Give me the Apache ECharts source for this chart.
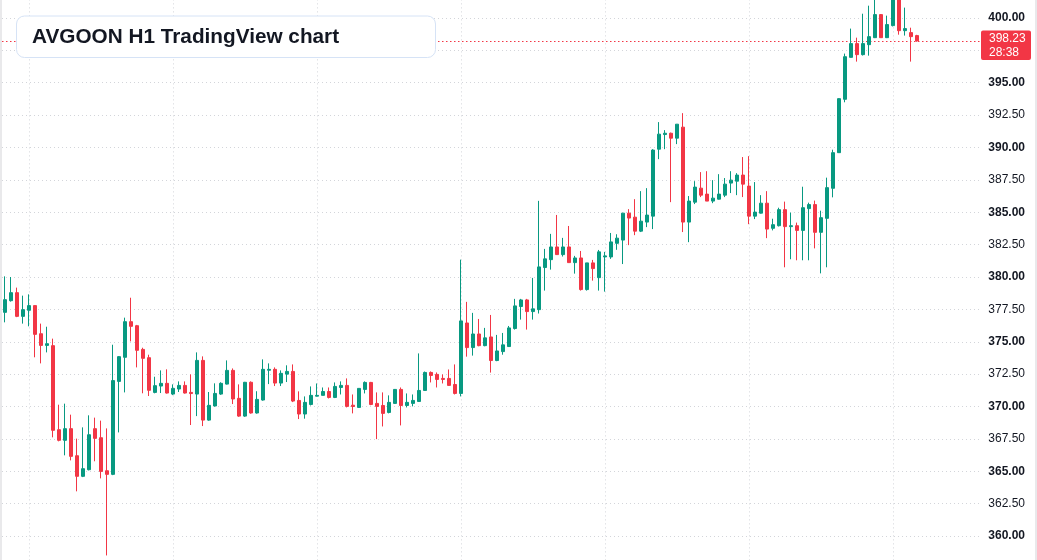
<!DOCTYPE html>
<html>
<head>
<meta charset="utf-8">
<script src="https://cdn.jsdelivr.net/npm/echarts@6/dist/echarts.min.js"></script>
<style>
  html, body { margin: 0; padding: 0; background: #fff; }
  #chart { width: 1037px; height: 560px; }
</style>
</head>
<body>
<div id="chart"></div>
<script>
// H1 candles, oldest first
const opens = [
  377.27, 378.17, 378.79, 376.96, 377.43, 377.79, 375.62, 374.72, 374.70, 368.21,
  367.39, 368.29, 366.20, 364.61, 365.12, 368.29, 367.59, 365.04, 364.76, 371.94,
  373.80, 376.55, 376.24, 374.41, 373.77, 371.09, 371.58, 371.79, 370.96, 371.35,
  371.63, 371.09, 370.96, 373.56, 368.95, 370.04, 370.96, 371.73, 372.79, 370.63,
  369.26, 371.87, 369.50, 370.50, 372.80, 372.87, 371.81, 372.50, 372.71, 370.47,
  369.42, 370.16, 370.80, 370.86, 371.16, 370.70, 371.47, 371.63, 370.10, 369.93,
  371.32, 371.86, 370.24, 370.08, 369.54, 370.24, 371.32, 370.08, 370.24, 370.39,
  371.24, 372.63, 372.48, 372.17, 372.17, 371.70, 371.01, 376.45, 374.55, 375.60,
  374.70, 375.37, 373.55, 374.24, 374.63, 376.02, 377.72, 378.23, 377.33, 377.48,
  380.73, 381.34, 382.32, 381.73, 382.32, 381.11, 381.47, 379.03, 381.09, 379.95,
  381.55, 381.55, 382.60, 382.85, 384.93, 384.62, 383.54, 384.24, 384.70, 389.87,
  391.00, 391.10, 390.72, 391.57, 384.24, 385.78, 386.86, 386.40, 385.86, 386.01,
  386.32, 387.25, 387.40, 387.87, 387.02, 384.70, 384.93, 385.70, 383.76, 383.96,
  385.20, 383.89, 383.96, 383.60, 385.28, 385.59, 383.45, 384.53, 386.85, 389.60,
  393.72, 396.96, 398.02, 397.17, 397.94, 398.48, 400.26, 398.48, 399.41, 401.50,
  399.02, 398.87, 398.64
];
const closes = [
  378.25, 378.79, 376.96, 377.48, 377.79, 375.57, 374.72, 374.85, 368.16, 367.39,
  368.29, 366.15, 364.61, 365.20, 367.82, 367.54, 364.99, 364.76, 372.00, 373.85,
  376.55, 376.19, 374.34, 373.72, 371.25, 371.61, 371.79, 371.04, 371.40, 371.63,
  371.04, 371.00, 373.56, 368.95, 370.09, 371.01, 371.79, 372.79, 370.58, 369.26,
  371.87, 369.50, 370.55, 372.87, 372.87, 371.81, 372.56, 372.71, 370.42, 369.42,
  370.32, 370.86, 370.86, 371.16, 370.70, 371.55, 371.63, 370.01, 370.00, 371.40,
  371.86, 370.16, 370.01, 369.47, 370.32, 371.32, 370.08, 370.32, 370.47, 371.24,
  372.63, 372.40, 372.09, 372.09, 371.63, 371.01, 376.61, 374.55, 375.60, 374.70,
  375.30, 373.55, 374.29, 374.76, 376.07, 377.77, 378.23, 377.33, 377.54, 380.78,
  381.40, 382.32, 381.73, 382.32, 381.11, 381.47, 379.03, 381.09, 380.65, 381.94,
  381.63, 382.71, 383.00, 384.93, 384.55, 383.54, 384.31, 384.78, 389.80, 391.03,
  391.10, 390.72, 391.80, 384.24, 385.86, 386.94, 386.32, 385.86, 386.09, 386.40,
  387.17, 387.48, 387.87, 387.17, 384.70, 385.01, 385.70, 383.70, 384.04, 385.20,
  383.89, 383.96, 383.60, 385.35, 385.59, 383.45, 384.58, 386.90, 389.60, 393.77,
  397.01, 398.02, 397.17, 398.02, 398.56, 400.26, 398.48, 399.49, 401.50, 399.02,
  399.18, 398.56, 398.23
];
const lows = [
  376.50, 378.10, 376.90, 376.40, 376.19, 373.80, 373.33, 374.18, 367.62, 367.31,
  366.23, 365.84, 363.45, 364.55, 365.07, 365.77, 364.45, 358.50, 364.70, 368.00,
  371.09, 375.03, 373.02, 371.02, 370.81, 371.02, 371.04, 371.00, 370.88, 371.12,
  371.00, 368.57, 369.26, 368.49, 368.90, 370.00, 370.90, 371.70, 370.19, 369.20,
  369.20, 369.45, 369.45, 370.45, 371.73, 371.58, 371.58, 371.89, 370.34, 369.03,
  369.06, 370.08, 370.78, 370.86, 370.62, 370.65, 370.93, 369.93, 369.47, 369.90,
  371.01, 370.10, 367.48, 368.46, 369.47, 370.20, 368.54, 369.93, 370.01, 370.37,
  371.20, 371.86, 371.47, 371.78, 371.60, 370.93, 370.78, 373.85, 373.93, 374.65,
  374.65, 372.62, 373.50, 374.00, 374.60, 375.94, 376.71, 375.94, 376.71, 377.18,
  378.95, 380.57, 381.70, 381.58, 381.10, 380.26, 378.95, 378.95, 379.72, 378.95,
  378.87, 381.40, 382.10, 381.00, 382.46, 383.23, 383.47, 383.85, 383.70, 389.10,
  389.87, 385.78, 390.26, 383.47, 382.69, 385.63, 386.17, 385.86, 385.70, 385.98,
  386.17, 386.48, 386.32, 386.17, 384.08, 384.47, 384.90, 383.00, 383.60, 383.90,
  380.75, 381.37, 381.29, 381.29, 381.29, 382.21, 380.28, 380.75, 386.15, 389.60,
  393.49, 396.95, 396.63, 397.10, 397.09, 398.45, 398.48, 398.45, 399.35, 398.71,
  398.64, 396.63, 398.17
];
const highs = [
  380.05, 380.00, 379.18, 378.56, 378.66, 377.80, 376.40, 376.16, 375.24, 370.14,
  370.22, 369.37, 367.52, 368.39, 369.32, 369.14, 368.91, 368.31, 374.77, 373.90,
  376.86, 378.40, 376.30, 374.54, 374.00, 372.30, 372.79, 372.87, 371.71, 371.94,
  371.94, 372.48, 374.18, 373.87, 371.12, 371.79, 371.87, 373.56, 372.94, 371.71,
  371.90, 371.94, 371.18, 373.64, 373.33, 373.02, 372.79, 373.18, 373.25, 371.17,
  370.78, 371.55, 371.78, 371.47, 371.47, 371.86, 371.94, 372.17, 370.93, 371.40,
  371.94, 371.90, 371.09, 371.09, 370.86, 371.35, 371.47, 371.01, 370.93, 374.10,
  372.70, 372.71, 372.63, 372.48, 372.86, 373.25, 381.34, 378.08, 377.23, 376.76,
  376.07, 377.07, 375.53, 375.68, 376.22, 378.31, 378.31, 378.31, 379.93, 385.88,
  382.17, 383.33, 384.79, 383.02, 383.94, 381.63, 382.01, 381.09, 381.32, 382.09,
  381.94, 383.40, 383.30, 384.93, 385.24, 386.01, 386.63, 386.86, 389.87, 391.96,
  391.34, 391.15, 391.80, 392.65, 386.25, 387.40, 388.10, 388.17, 387.48, 387.94,
  387.64, 388.17, 388.02, 389.26, 389.33, 387.33, 386.32, 386.63, 384.50, 385.35,
  385.82, 384.97, 384.20, 386.97, 385.74, 385.90, 385.12, 387.67, 389.83, 393.80,
  397.25, 399.18, 398.48, 400.33, 400.95, 401.60, 400.30, 400.18, 401.80, 401.80,
  400.80, 399.25, 398.70
];

const futureSlots = 10;                       // empty hours right of the last bar
const vGridSlots = [4, 28, 52, 76, 100, 124, 148];
const lastPrice = 398.23;
const countdown = '28:38';
const chartTitle = 'AVGOON H1 TradingView chart';

const upColor = '#089981';
const downColor = '#F23645';
const gridColor = '#d3d5da';
const font = 'Liberation Sans, Arial, sans-serif';

const categories = Array.from({ length: opens.length + futureSlots }, (_, i) => String(i));
const candles = opens.map((o, i) => [o, closes[i], lows[i], highs[i]]);

const chart = echarts.init(document.getElementById('chart'), null, { renderer: 'canvas' });

const option = {
  animation: false,
  backgroundColor: '#ffffff',
  title: {
    text: chartTitle,
    left: 32,
    top: 16,
    padding: 0,
    z: 10,
    textStyle: {
      fontFamily: font,
      fontSize: 20.75,
      fontWeight: 'bold',
      color: '#131722',
      lineHeight: 42
    }
  },
  // price scale runs past the canvas edges so 360 and 400 sit where they do in the original
  grid: { left: 2, right: 57, top: -14.4, bottom: -8.4, containLabel: false, outerBoundsMode: 'none' },
  xAxis: {
    type: 'category',
    data: categories,
    boundaryGap: true,
    axisLine: { show: false },
    axisTick: { show: false },
    axisLabel: { show: false },
    splitLine: { show: false }
  },
  yAxis: {
    type: 'value',
    position: 'right',
    min: 357.5,
    max: 402.5,
    interval: 2.5,
    axisLine: { show: false },
    axisTick: { show: false },
    splitLine: { lineStyle: { color: gridColor, type: [1, 3], width: 1 } },
    axisLabel: {
      margin: 45,
      align: 'right',
      formatter: v => (Math.round(v * 100) % 500 === 0 ? '{b|' : '{n|') + v.toFixed(2) + '}',
      rich: {
        b: { fontFamily: font, fontSize: 12, fontWeight: 'bold', color: '#131722' },
        n: { fontFamily: font, fontSize: 12, color: '#131722' }
      }
    }
  },
  series: [{
    type: 'candlestick',
    data: candles,
    barWidth: 4,
    itemStyle: {
      color: upColor,
      color0: downColor,
      borderColor: upColor,
      borderColor0: downColor,
      borderWidth: 1
    },
    markLine: {
      silent: true,
      z: 1,
      symbol: ['none', 'none'],
      label: { show: false },
      data: [
        ...vGridSlots.map(i => ({
          xAxis: categories[i],
          lineStyle: { color: gridColor, type: [1, 3], width: 1 }
        })),
        { yAxis: lastPrice, lineStyle: { color: downColor, type: [1.5, 2.5], width: 1 } }
      ]
    }
  }]
};

chart.setOption(option);

// title card, frame edges and the last-price tag
const py = chart.convertToPixel({ yAxisIndex: 0 }, lastPrice);
chart.setOption({
  graphic: [
    { type: 'rect', z: 9, shape: { x: 16.5, y: 16, width: 419, height: 41.5, r: 8 },
      style: { fill: '#ffffff', stroke: '#d6e3f6', lineWidth: 1 } },
    { type: 'rect', z: 9, shape: { x: 0, y: 0, width: 2, height: 560 }, style: { fill: '#e9e9eb' } },
    { type: 'rect', z: 9, shape: { x: 1035, y: 0, width: 2, height: 560 }, style: { fill: '#e9e9eb' } },
    { type: 'rect', z: 9, shape: { x: 981, y: py - 10.3, width: 50, height: 29.3, r: 2 },
      style: { fill: downColor } },
    { type: 'text', z: 10, x: 989, y: py - 2,
      style: { text: lastPrice.toFixed(2), fill: '#ffffff', font: '12px ' + font, verticalAlign: 'middle' } },
    { type: 'text', z: 10, x: 989, y: py + 11.5,
      style: { text: countdown, fill: '#ffffff', font: '12px ' + font, verticalAlign: 'middle' } }
  ]
});
</script>
</body>
</html>
